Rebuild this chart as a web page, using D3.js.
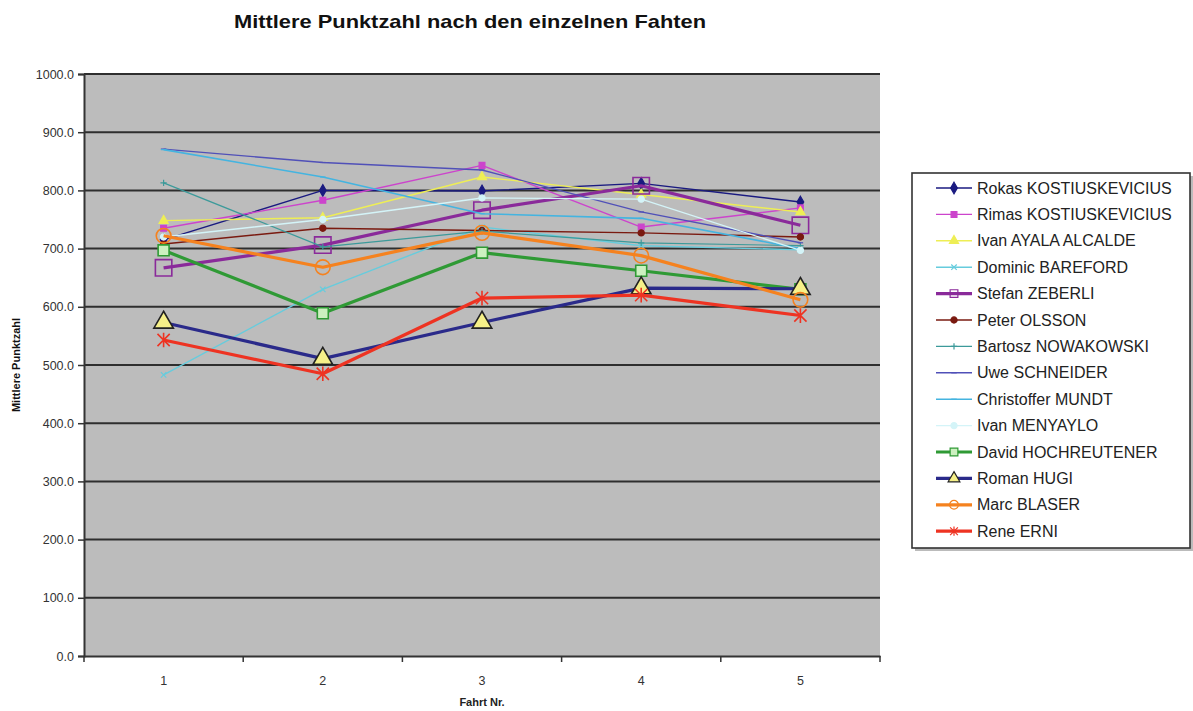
<!DOCTYPE html>
<html>
<head>
<meta charset="utf-8">
<script src="https://cdn.jsdelivr.net/npm/d3@7"></script>
<style>
  html, body { margin: 0; padding: 0; background: #fff; }
  svg { display: block; font-family: Arial, "Liberation Sans", sans-serif; }
</style>
</head>
<body>
<svg id="chart" width="1193" height="711"></svg>
<script>
// ---- data ----
const fahrten = ['1', '2', '3', '4', '5'];
const yTicks = [0, 100, 200, 300, 400, 500, 600, 700, 800, 900, 1000];

const riders = [
    'Rokas KOSTIUSKEVICIUS', 'Rimas KOSTIUSKEVICIUS', 'Ivan AYALA ALCALDE',
    'Dominic BAREFORD', 'Stefan ZEBERLI', 'Peter OLSSON', 'Bartosz NOWAKOWSKI',
    'Uwe SCHNEIDER', 'Christoffer MUNDT', 'Ivan MENYAYLO', 'David HOCHREUTENER',
    'Roman HUGI', 'Marc BLASER', 'Rene ERNI'
];

const rokas       = [715, 800, 799, 812, 780];
const rimas       = [735, 783, 843, 737, 770];
const ivanAyala   = [748, 753, 823, 793, 763];
const dominic     = [483, 630, 737, 705, 698];
const stefan      = [667, 706, 766, 808, 740];
const peter       = [708, 735, 731, 727, 720];
const bartosz     = [813, 703, 730, 710, 705];
const uwe         = [871, 848, 835, 763, 710];
const christoffer = [870, 823, 760, 752, 700];
const ivanMenyaylo = [720, 750, 787, 785, 697];
const david       = [697, 589, 693, 662, 630];
const roman       = [573, 511, 573, 632, 631];
const marc        = [722, 668, 727, 688, 612];
const rene        = [543, 485, 615, 620, 585];

const values = [rokas, rimas, ivanAyala, dominic, stefan, peter, bartosz,
    uwe, christoffer, ivanMenyaylo, david, roman, marc, rene];

// ---- styles (one per rider) ----
const styles = [
    { color: '#1a1a80', width: 1.4, marker: 'diamond', size: 30, fill: '#1a1a80' },
    { color: '#cc44cc', width: 1.4, marker: 'square', size: 34, fill: '#cc44cc' },
    { color: '#eeee55', width: 1.4, marker: 'triangle', size: 36, fill: '#eeee55' },
    { color: '#66ccdd', width: 1.4, marker: 'x', size: 30, fill: 'none' },
    { color: '#8a2a9a', width: 3.2, marker: 'square', size: 270, fill: 'none' },
    { color: '#7a1a10', width: 1.4, marker: 'circle', size: 30, fill: '#7a1a10' },
    { color: '#3c9a9a', width: 1.2, marker: 'plus', size: 40, fill: 'none' },
    { color: '#5050b8', width: 1.4, marker: 'dash', size: 30, fill: 'none' },
    { color: '#44b4e0', width: 1.6, marker: 'dash', size: 30, fill: 'none' },
    { color: '#d4f4f8', width: 1.4, marker: 'circle', size: 30, fill: '#d4f4f8' },
    { color: '#2f9a35', width: 3.2, marker: 'square', size: 120, fill: '#ccf0c0' },
    { color: '#2a2a8a', width: 3.2, marker: 'triangle', size: 165, fill: '#f6f088' },
    { color: '#f5821f', width: 3.2, marker: 'circle', size: 170, fill: 'none' },
    { color: '#ee3322', width: 3.2, marker: 'star', size: 150, fill: 'none' }
];

const svg = d3.select('#chart');

const plot = { left: 84, right: 880, top: 74, bottom: 656 };

const x = d3.scaleBand().domain(fahrten).range([plot.left, plot.right]);
const y = d3.scaleLinear().domain([0, 1000]).range([plot.bottom, plot.top]);

// Title
svg.append('text')
    .attr('x', 470).attr('y', 28)
    .attr('text-anchor', 'middle')
    .attr('textLength', 472).attr('lengthAdjust', 'spacingAndGlyphs')
    .style('font-size', '19px').style('font-weight', 'bold')
    .attr('fill', '#111')
    .text('Mittlere Punktzahl nach den einzelnen Fahten');

// Plot background
svg.append('rect')
    .attr('x', plot.left).attr('y', plot.top)
    .attr('width', plot.right - plot.left).attr('height', plot.bottom - plot.top)
    .attr('fill', '#bcbcbc');

// Gridlines
svg.append('g')
    .selectAll('line')
    .data(yTicks.filter(d => d > 0))
    .join('line')
    .attr('x1', plot.left).attr('x2', plot.right)
    .attr('y1', d => y(d)).attr('y2', d => y(d))
    .attr('stroke', '#2e2e2e')
    .attr('stroke-width', 2);

// Y axis
const yAxis = svg.append('g')
    .attr('transform', `translate(${plot.left},0)`)
    .call(d3.axisLeft(y).tickValues(yTicks).tickFormat(d3.format('.1f')).tickSize(6).tickPadding(4));
yAxis.select('.domain').attr('stroke', '#333').attr('stroke-width', 2);
yAxis.selectAll('.tick line').attr('stroke', '#333').attr('stroke-width', 1.5);
yAxis.selectAll('.tick text')
    .style('font-size', '12.5px').attr('fill', '#333')
    .style('font-family', 'Arial, "Liberation Sans", sans-serif');

// X axis
const xAxis = svg.append('g')
    .attr('transform', `translate(0,${plot.bottom})`)
    .call(d3.axisBottom(x).tickSize(0).tickPadding(20));
xAxis.select('.domain').attr('stroke', '#333').attr('stroke-width', 2);
xAxis.selectAll('.tick text')
    .style('font-size', '12.5px').attr('fill', '#333')
    .style('font-family', 'Arial, "Liberation Sans", sans-serif');

// tick marks between categories
const bounds = fahrten.map(f => x(f)).concat([plot.right]);
svg.append('g')
    .selectAll('line')
    .data(bounds)
    .join('line')
    .attr('x1', d => d).attr('x2', d => d)
    .attr('y1', plot.bottom).attr('y2', plot.bottom + 6)
    .attr('stroke', '#333').attr('stroke-width', 1.5);

// Axis titles
svg.append('text')
    .attr('transform', `translate(20,${(plot.top + plot.bottom) / 2}) rotate(-90)`)
    .attr('text-anchor', 'middle')
    .style('font-size', '11px').style('font-weight', 'bold')
    .attr('fill', '#111')
    .text('Mittlere Punktzahl');

svg.append('text')
    .attr('x', x('3') + x.bandwidth() / 2).attr('y', 706)
    .attr('text-anchor', 'middle')
    .style('font-size', '11px').style('font-weight', 'bold')
    .attr('fill', '#222')
    .text('Fahrt Nr.');

// Markers
function markerPath(type, size) {
    const r = Math.sqrt(size) / 2;
    switch (type) {
        case 'diamond': return d3.symbol(d3.symbolDiamond, size * 1.3)();
        case 'square': return d3.symbol(d3.symbolSquare, size)();
        case 'triangle': return d3.symbol(d3.symbolTriangle, size)();
        case 'circle': return d3.symbol(d3.symbolCircle, size)();
        case 'plus': return `M${-r},0H${r}M0,${-r}V${r}`;
        case 'x': return `M${-r},${-r}L${r},${r}M${-r},${r}L${r},${-r}`;
        case 'dash': return `M${-r},0H${r}`;
        case 'star': return `M${-r},${-r}L${r},${r}M${-r},${r}L${r},${-r}M0,${-r * 1.2}V${r * 1.2}`;
    }
}

const line = d3.line()
    .x((d, i) => x(fahrten[i]) + x.bandwidth() / 2)
    .y(d => y(d));

const seriesG = svg.append('g')
    .selectAll('g')
    .data(riders.map((name, i) => ({ name, vals: values[i], st: styles[i] })))
    .join('g');

seriesG.append('path')
    .attr('d', d => line(d.vals))
    .attr('fill', 'none')
    .attr('stroke', d => d.st.color)
    .attr('stroke-width', d => d.st.width)
    .attr('stroke-linejoin', 'round');

seriesG.each(function (d) {
    const g = d3.select(this);
    const heavy = d.st.width > 2;
    g.selectAll('path.mk')
        .data(d.vals)
        .join('path')
        .attr('class', 'mk')
        .attr('transform', (v, i) => `translate(${x(fahrten[i]) + x.bandwidth() / 2},${y(v)})`)
        .attr('d', markerPath(d.st.marker, d.st.size))
        .attr('fill', d.st.fill)
        .attr('stroke', d.name === 'Roman HUGI' ? '#222' : d.st.color)
        .attr('stroke-width', heavy ? 1.6 : 1.2);
});

// Legend
const legend = { x: 912, y: 173, w: 278, h: 375 };
svg.append('rect')
    .attr('x', legend.x + 3).attr('y', legend.y + 3)
    .attr('width', legend.w).attr('height', legend.h)
    .attr('fill', '#bbb');
svg.append('rect')
    .attr('x', legend.x).attr('y', legend.y)
    .attr('width', legend.w).attr('height', legend.h)
    .attr('fill', '#fff')
    .attr('stroke', '#333').attr('stroke-width', 1.6);

const legendStep = 26.4;
const legItems = svg.append('g')
    .selectAll('g')
    .data(riders.map((name, i) => ({ name, st: styles[i] })))
    .join('g')
    .attr('transform', (d, i) => `translate(${legend.x},${legend.y + 15 + i * legendStep})`);

legItems.append('line')
    .attr('x1', 24).attr('x2', 60)
    .attr('y1', 0).attr('y2', 0)
    .attr('stroke', d => d.st.color)
    .attr('stroke-width', d => d.st.width);

legItems.append('path')
    .attr('transform', 'translate(42,0)')
    .attr('d', d => markerPath(d.st.marker, Math.min(d.st.size, 60)))
    .attr('fill', d => d.st.fill)
    .attr('stroke', d => d.name === 'Roman HUGI' ? '#222' : d.st.color)
    .attr('stroke-width', 1.2);

legItems.append('text')
    .attr('x', 65).attr('y', 5.5)
    .style('font-size', '16px')
    .attr('fill', '#222')
    .text(d => d.name);
</script>
</body>
</html>
